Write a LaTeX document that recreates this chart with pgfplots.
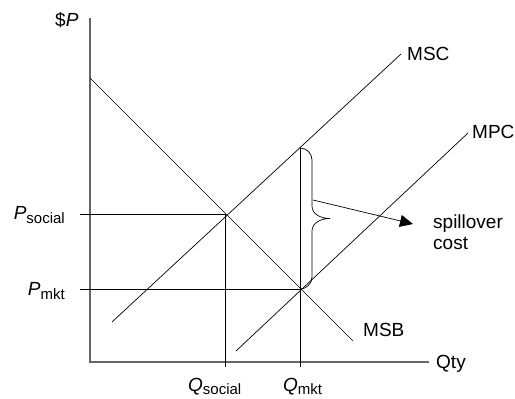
\documentclass[border=0pt]{standalone}
\usepackage{pgfplots}
\pgfplotsset{compat=1.18}
\usepackage{fontspec}
\setmainfont{Liberation Sans}
\usetikzlibrary{arrows.meta}
\newcommand{\sub}[1]{\raisebox{-3.5pt}{\fontsize{15}{15}\selectfont #1}}
\tikzset{lbl/.style={font=\fontsize{19}{21}\selectfont, inner sep=0pt}}
\begin{document}
\begin{tikzpicture}
\begin{axis}[scale only axis, width=515pt, height=399pt,
  xmin=-90, xmax=425, ymin=-37, ymax=362, hide axis, clip=false]
% bounding corners
\addplot[draw=none] coordinates {(-90,-37) (425,362)};
% axes
\addplot[gray!80!black, line width=1.2pt] coordinates {(0,344) (0,0) (339,0)};
% guide lines
\addplot[black, line width=0.8pt] coordinates {(-10,148) (135,148)};
\addplot[black, line width=0.8pt] coordinates {(135,-5) (135,148)};
\addplot[black, line width=0.8pt] coordinates {(-10,73) (210,73)};
\addplot[black, line width=0.8pt] coordinates {(210,-5) (210,214)};
% curves
\addplot[black, line width=0.7pt] coordinates {(0,284) (263,21)};   % MSB
\addplot[black, line width=0.7pt] coordinates {(22,40) (311,308)};  % MSC
\addplot[black, line width=0.7pt] coordinates {(146,11) (378,229)}; % MPC
% brace
\draw[black, line width=0.7pt] (axis cs:210,214) to[out=0,in=90] (axis cs:222,202) -- (axis cs:222,156)
  to[out=-90,in=180] (axis cs:240,143.5) to[out=180,in=90] (axis cs:222,131) -- (axis cs:222,85)
  to[out=-90,in=0] (axis cs:210,73);
% arrow
\draw[black, line width=0.7pt, -{Triangle[length=13pt,width=12pt]}] (axis cs:223,162) -- (axis cs:323,138);
% labels
\node[lbl, anchor=base west] at (axis cs:-35,335) {\$\textit{P}};
\node[lbl, anchor=base east] at (axis cs:-25,142) {\textit{P}\sub{social}};
\node[lbl, anchor=base east] at (axis cs:-25,66) {\textit{P}\sub{mkt}};
\node[lbl, anchor=base west] at (axis cs:98,-29.5) {\textit{Q}\sub{social}};
\node[lbl, anchor=base west] at (axis cs:193,-29.5) {\textit{Q}\sub{mkt}};
\node[lbl, anchor=base west] at (axis cs:346,-6.5) {Qty};
\node[lbl, anchor=base west] at (axis cs:273,25) {MSB};
\node[lbl, anchor=base west] at (axis cs:317,301) {MSC};
\node[lbl, anchor=base west] at (axis cs:382,223) {MPC};
\node[lbl, anchor=base west] at (axis cs:343,133) {spillover};
\node[lbl, anchor=base west] at (axis cs:343,112) {cost};
\end{axis}
\end{tikzpicture}
\end{document}
